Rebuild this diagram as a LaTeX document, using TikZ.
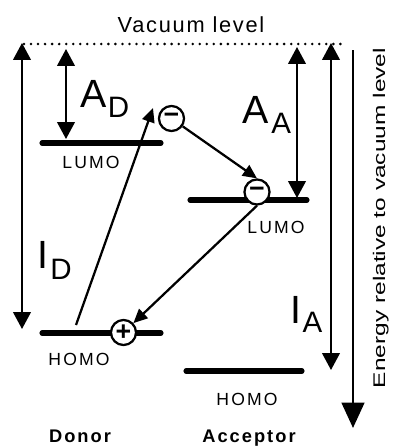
\documentclass[tikz,border=0pt]{standalone}
\usepackage{graphicx}
\usepackage{fontspec}
\setmainfont{Liberation Sans}
\usetikzlibrary{arrows.meta}
\newcommand\lvlfont{\fontsize{12.5}{14}\selectfont\addfontfeature{LetterSpace=12}}
\newcommand\sidefont{\fontsize{13}{15}\selectfont\bfseries\addfontfeature{LetterSpace=11}}
\newcommand\bigletter{\fontsize{28}{30}\selectfont}
\newcommand\subletter{\fontsize{21}{23}\selectfont}
\begin{document}
\begin{tikzpicture}[x=0.025cm, y=-0.025cm,
  level/.style={line width=3.6pt, line cap=round},
  dimarrow/.style={line width=1.4pt, {Triangle[width=12.5pt,length=12pt]}-{Triangle[width=12.5pt,length=12pt]}},
  transfer/.style={line width=1.6pt, -{Triangle[width=9pt,length=10pt]}},
  charge/.style={circle, draw, line width=1.6pt, fill=white, minimum size=17.8pt, inner sep=0pt, font=\fontsize{19}{19}\selectfont\bfseries},
  lvltext/.style={anchor=base, inner sep=0pt, font=\lvlfont},
  sidetext/.style={anchor=base, inner sep=0pt, font=\sidefont},
  energylbl/.style={anchor=base west, inner sep=0pt, font=\bigletter}]
\useasboundingbox (0,0) rectangle (396,447);
% vacuum level
\node[anchor=base, inner sep=0pt, font=\fontsize{15.5}{17}\selectfont\addfontfeature{LetterSpace=8}] (vac) at (191,32) {Vacuum level};
\coordinate (vacL) at (24,44);
\coordinate (vacR) at (346,44);
\draw[line width=2pt, line cap=round, dash pattern=on 0pt off 5pt] (vacL) -- (vacR);
% levels
\coordinate (dLumoL) at (42,143); \coordinate (dLumoR) at (161,143);
\coordinate (dHomoL) at (42,333); \coordinate (dHomoR) at (161,333);
\coordinate (aLumoL) at (190,200); \coordinate (aLumoR) at (307,200);
\coordinate (aHomoL) at (186,371); \coordinate (aHomoR) at (302,371);
\draw[level] (dLumoL) -- (dLumoR);
\draw[level] (dHomoL) -- (dHomoR);
\draw[level] (aLumoL) -- (aLumoR);
\draw[level] (aHomoL) -- (aHomoR);
\node[lvltext] (dLumo) at (91,168) {LUMO};
\node[lvltext] (dHomo) at (79,365) {HOMO};
\node[lvltext] (aLumo) at (276,233) {LUMO};
\node[lvltext] (aHomo) at (247,405) {HOMO};
% energies
\coordinate (idTop) at (22,43); \coordinate (idBot) at (22,329);
\coordinate (adTop) at (66,49); \coordinate (adBot) at (66,139);
\coordinate (aaTop) at (297,47); \coordinate (aaBot) at (297,198);
\coordinate (iaTop) at (331,43); \coordinate (iaBot) at (331,370);
\draw[dimarrow] (idTop) -- (idBot);
\draw[dimarrow] (adTop) -- (adBot);
\draw[dimarrow] (aaTop) -- (aaBot);
\draw[dimarrow] (iaTop) -- (iaBot);
\node[energylbl] (labAD) at (80,107) {A\kern1pt\raisebox{-7.8pt}{\subletter D}};
\node[energylbl] (labAA) at (242,123) {A\kern2pt\raisebox{-7.8pt}{\subletter A}};
\node[energylbl] (labID) at (37,268) {I\kern1.5pt\raisebox{-8.5pt}{\subletter D}};
\node[energylbl] (labIA) at (290,323) {I\kern1pt\raisebox{-7pt}{\subletter A}};
% energy axis
\coordinate (enTop) at (353,50); \coordinate (enBot) at (353,428);
\draw[line width=2pt, -{Triangle[width=16pt,length=18pt]}] (enTop) -- (enBot);
\node[rotate=90, anchor=base, inner sep=0pt, font=\fontsize{12}{14}\selectfont] (energy) at (385,218)
  {\scalebox{1.45}[1]{Energy relative to vacuum level}};
% charges
\node[charge] (hole) at (123.5,332.5) {+};
\node[charge] (elD) at (171.5,118.5) {−};
\node[charge] (elA) at (257,192) {−};
\coordinate (exFrom) at (76,325);
\coordinate (exTo) at (153,108);
\draw[transfer] (exFrom) -- (exTo);
\draw[transfer] (elD) -- (elA.north);
\draw[transfer] (elA.south) -- (hole);
% sides
\node[sidetext] (donor) at (80,442) {Donor};
\node[sidetext] (acceptor) at (249,442) {Acceptor};
\end{tikzpicture}
\end{document}
